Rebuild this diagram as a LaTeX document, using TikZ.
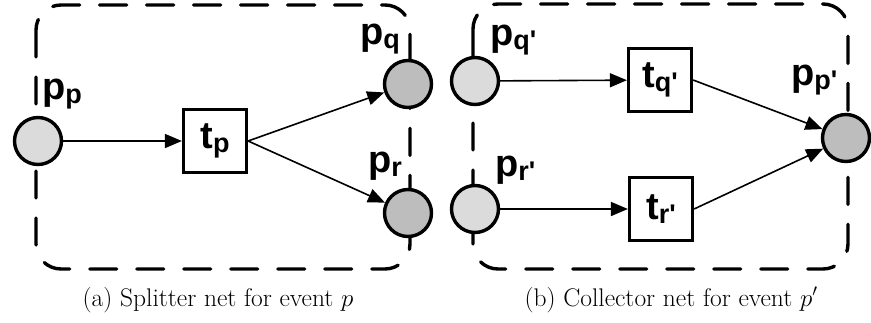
\documentclass[tikz,border=0pt]{standalone}
\usepackage{fontspec}
\newfontfamily\lblfont{Liberation Sans}[Ligatures=NoCommon]
\usetikzlibrary{arrows.meta}

% place label: bold sans letter with a lowered smaller subscript
\newcommand{\plabel}[2]{{\lblfont\bfseries\fontsize{38}{38}\selectfont #1}\raisebox{-4pt}{\lblfont\bfseries\fontsize{27}{27}\selectfont #2}}

\tikzset{
  netbox/.style={line width=3.4pt, dash pattern=on 27pt off 20pt, line cap=round, rounded corners=25pt},
  place/.style={circle, draw, line width=3.4pt, minimum size=47pt, inner sep=0pt},
  inplace/.style={place, fill=black!14},
  outplace/.style={place, fill=black!26},
  trans/.style={rectangle, draw, line width=3.2pt, minimum size=63pt, inner sep=0pt, fill=white},
  arc/.style={line width=1.6pt, -{Triangle[length=17pt,width=14pt]}},
  plbl/.style={anchor=base west, inner sep=0pt},
  caption/.style={anchor=base, inner sep=0pt, font=\fontsize{25.5}{25.5}\selectfont}
}

\begin{document}
\begin{tikzpicture}[x=1pt, y=-1pt]
  \useasboundingbox (0,0) rectangle (871,322);

  % net outlines
  \draw[netbox] (36,5) rectangle (410,269);
  \draw[netbox] (473,4) rectangle (848,269);

  % splitter net
  \node[inplace] (pp) at (38,141) {};
  \node[trans] (tp) at (215,141) {\plabel{t}{p}};
  \node[outplace] (pq) at (408,84) {};
  \node[outplace] (pr) at (408,213) {};

  \draw[arc] (pp) -- (tp);
  \draw[arc] (tp.east) -- (pq);
  \draw[arc] (tp.east) -- (pr);

  \node[plbl] (lpp) at (42,99) {\plabel{p}{p}};
  \node[plbl] (lpq) at (360,44) {\plabel{p}{q}};
  \node[plbl] (lpr) at (368,172) {\plabel{p}{r}};

  % collector net
  \node[inplace] (pqp) at (475,81) {};
  \node[inplace] (prp) at (475,209) {};
  \node[trans] (tqp) at (660,80) {\plabel{t}{q'}};
  \node[trans] (trp) at (661,209) {\plabel{t}{r'}};
  \node[outplace] (ppp) at (846,138) {};

  \draw[arc] (pqp) -- (tqp);
  \draw[arc] (prp) -- (trp);
  \draw[arc] (tqp.east) -- (ppp);
  \draw[arc] (trp.east) -- (ppp);

  \node[plbl] (lpqp) at (490,45) {\plabel{p}{q'}};
  \node[plbl] (lprp) at (495,176) {\plabel{p}{r'}};
  \node[plbl] (lppp) at (791,85) {\plabel{p}{p'}};

  % captions
  \node[caption] (capa) at (218,306) {(a) Splitter net for event $p$};
  \node[caption] (capb) at (671,306) {(b) Collector net for event $p'$};
\end{tikzpicture}
\end{document}
